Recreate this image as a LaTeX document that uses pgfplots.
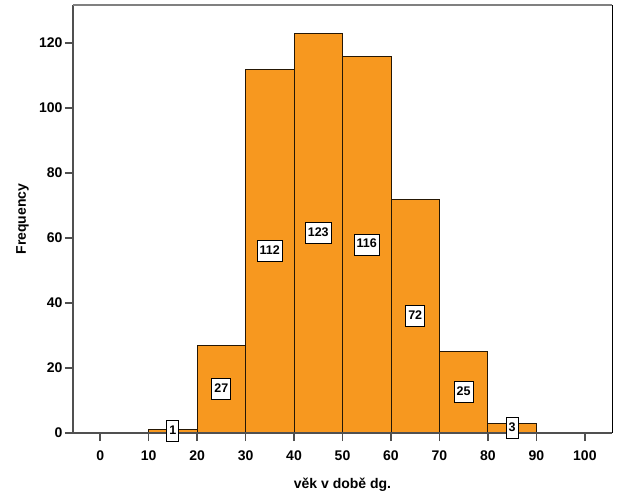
\documentclass[border=0pt]{standalone}
\usepackage{fontspec}
\setmainfont{Liberation Sans}
\usepackage{pgfplots}
\pgfplotsset{compat=1.18}
\usepackage{pgfplotstable}
\definecolor{barorange}{RGB}{247,152,31}
\definecolor{axisgray}{RGB}{80,80,80}
\definecolor{topgray}{RGB}{128,128,128}
\pgfplotstableread{
x f
10 1
20 27
30 112
40 123
50 116
60 72
70 25
80 3
90 3
}\histdata
\pgfplotstableread{
x f
15 1
25 27
35 112
45 123
55 116
65 72
75 25
85 3
}\labeldata
\begin{document}
\begin{tikzpicture}
\begin{axis}[
  scale only axis,
  width=539pt, height=428pt,
  xmin=-5.6, xmax=105.6,
  ymin=0, ymax=131.7,
  clip=false,
  axis line style={draw=none},
  xtick={0,10,...,100},
  ytick={0,20,...,120},
  tick align=outside,
  major tick length=8pt,
  tick style={axisgray, line width=1.6pt},
  xtick pos=bottom, ytick pos=left,
  /pgf/number format/assume math mode=true,
  ticklabel style={font=\fontsize{14}{16}\selectfont\bfseries},
  xticklabel style={anchor=base, yshift=-19pt},
  yticklabel style={anchor=east, xshift=1pt},
  xlabel={věk v době dg.},
  ylabel={Frequency},
  label style={font=\fontsize{14}{16}\selectfont\bfseries},
  xlabel style={at={(axis description cs:0.5,-0.1285)}, anchor=base},
  ylabel style={at={(axis description cs:-0.0937,0.5)}, anchor=center},
]
\addplot[ybar interval, fill=barorange, draw=black!85!barorange, line width=0.9pt]
  table[x=x, y=f] {\histdata};
\draw[axisgray, line width=1.6pt] (rel axis cs:0,0) -- (rel axis cs:0,1);
\draw[axisgray, line width=1.6pt] (rel axis cs:0,0) -- (rel axis cs:1,0);
\draw[topgray, line width=1.6pt] (rel axis cs:0,1) -- (rel axis cs:1,1);
\draw[black, line width=0.9pt] (rel axis cs:1,0) -- (rel axis cs:1,1);
\addplot[only marks, mark=none, point meta=explicit symbolic,
  nodes near coords, nodes near coords align=center,
  every node near coord/.append style={draw=black, line width=0.8pt, fill=white,
    font=\fontsize{12.5}{14}\selectfont\bfseries, anchor=center,
    inner xsep=2.5pt, inner ysep=4.5pt, text height=9pt, text depth=3pt}]
  table[x=x, y expr=\thisrow{f}/2, meta=f] {\labeldata};
\end{axis}
\pgfresetboundingbox
\path[use as bounding box] ([shift={(-73pt,-68pt)}]current axis.south west) rectangle ([shift={(14pt,5pt)}]current axis.north east);
\end{tikzpicture}
\end{document}
